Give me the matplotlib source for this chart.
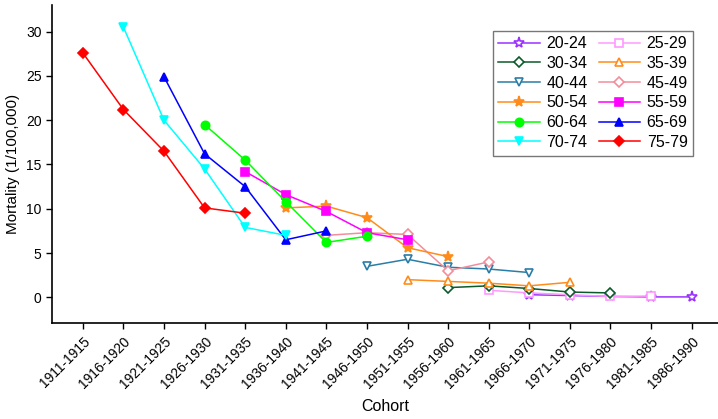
import numpy as np
import matplotlib.pyplot as plt

plt.rcParams['font.family'] = ['Liberation Sans', 'DejaVu Sans']

cohorts = ['1911-1915', '1916-1920', '1921-1925', '1926-1930', '1931-1935',
           '1936-1940', '1941-1945', '1946-1950', '1951-1955', '1956-1960',
           '1961-1965', '1966-1970', '1971-1975', '1976-1980', '1981-1985',
           '1986-1990']

# first cohort index of each age group, then its values
start_20_24, v_20_24 = 11, [0.3, 0.2, 0.1, 0.05, 0.05]
start_25_29, v_25_29 = 10, [0.8, 0.5, 0.3, 0.1, 0.15]
start_30_34, v_30_34 = 9, [1.1, 1.3, 1.0, 0.6, 0.5]
start_35_39, v_35_39 = 8, [2.0, 1.8, 1.6, 1.3, 1.7]
start_40_44, v_40_44 = 7, [3.5, 4.3, 3.4, 3.2, 2.8]
start_45_49, v_45_49 = 6, [7.0, 7.3, 7.1, 3.0, 4.0]
start_50_54, v_50_54 = 5, [10.1, 10.3, 9.0, 5.6, 4.6]
start_55_59, v_55_59 = 4, [14.2, 11.6, 9.7, 7.3, 6.5]
start_60_64, v_60_64 = 3, [19.5, 15.5, 10.8, 6.2, 6.9]
start_65_69, v_65_69 = 2, [24.9, 16.2, 12.5, 6.5, 7.5]
start_70_74, v_70_74 = 1, [30.5, 20.0, 14.5, 7.9, 7.0]
start_75_79, v_75_79 = 0, [27.6, 21.2, 16.5, 10.1, 9.5]

series = [
    ('20-24', start_20_24, v_20_24, '#9B30FF', '*', True),
    ('25-29', start_25_29, v_25_29, '#FF99FF', 's', True),
    ('30-34', start_30_34, v_30_34, '#0B5A2A', 'D', True),
    ('35-39', start_35_39, v_35_39, '#FF8C1A', '^', True),
    ('40-44', start_40_44, v_40_44, '#2A7DA6', 'v', True),
    ('45-49', start_45_49, v_45_49, '#F28E9B', 'D', True),
    ('50-54', start_50_54, v_50_54, '#FF8C1A', '*', False),
    ('55-59', start_55_59, v_55_59, '#FF00FF', 's', False),
    ('60-64', start_60_64, v_60_64, '#00FF00', 'o', False),
    ('65-69', start_65_69, v_65_69, '#0000FF', '^', False),
    ('70-74', start_70_74, v_70_74, '#00FFFF', 'v', False),
    ('75-79', start_75_79, v_75_79, '#FF0000', 'D', False),
]

fig = plt.figure(figsize=(7.18, 4.19), dpi=100)
ax = fig.add_axes([0.0724, 0.229, 0.9276, 0.759])

handles = {}
for label, start, vals, color, marker, hollow in series:
    x = np.arange(start, start + len(vals))
    ms = 8 if marker == '*' else 6
    if marker == 'D':
        ms = 5.5
    line, = ax.plot(x, vals, color=color, lw=1.1, marker=marker, ms=ms,
                    mfc='white' if hollow else color, mec=color, mew=1.2,
                    label=label)
    handles[label] = line

ax.set_xlim(-0.76, 15.65)
ax.set_ylim(-2.9, 33)
ax.set_xticks(range(len(cohorts)))
ax.set_xticklabels(cohorts, rotation=45, ha='right', rotation_mode='anchor',
                   fontsize=10)
ax.set_yticks([0, 5, 10, 15, 20, 25, 30])
ax.tick_params(axis='y', labelsize=10, direction='out', length=4, width=1)
ax.tick_params(axis='x', direction='out', length=4, width=1, pad=4)
for s in ['top', 'right']:
    ax.spines[s].set_visible(False)
for s in ['left', 'bottom']:
    ax.spines[s].set_linewidth(1.2)

ax.set_xlabel('Cohort', fontsize=11.5, labelpad=6)
ax.set_ylabel('Mortality (1/100,000)', fontsize=11)

order = ['20-24', '30-34', '40-44', '50-54', '60-64', '70-74',
         '25-29', '35-39', '45-49', '55-59', '65-69', '75-79']
leg = ax.legend([handles[k] for k in order], order, ncol=2, fontsize=11.5,
                loc='upper right', bbox_to_anchor=(0.975, 0.945),
                frameon=True, fancybox=False, edgecolor='#555555',
                handlelength=2.6, columnspacing=0.7, labelspacing=0.3,
                borderpad=0.35, handletextpad=0.4)
leg.get_frame().set_linewidth(1.0)

fig.savefig('out.png', dpi=100)
